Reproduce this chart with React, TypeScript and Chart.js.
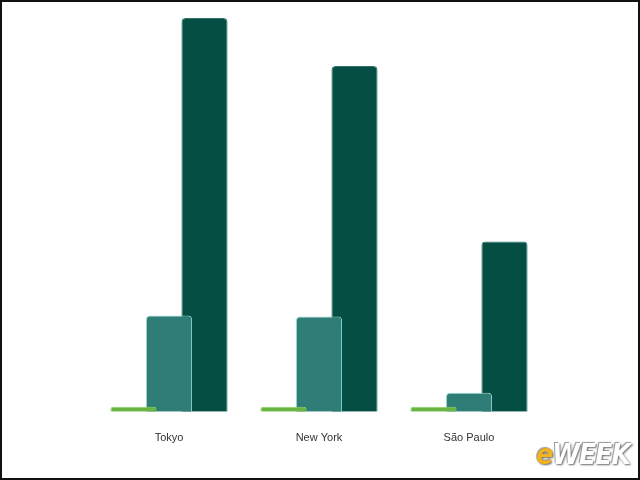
import { useEffect, useRef } from "react";
import { Chart, registerables } from "chart.js";

Chart.register(...registerables);

const cities = ["Tokyo", "New York", "São Paulo"];
const smallSeries = [0.5, 0.5, 0.5];
const midSeries = [9.6, 9.5, 1.9];
const bigSeries = [39.3, 34.5, 17.0];

export default function App() {
  const chartRef = useRef<HTMLCanvasElement>(null);
  const chartInstance = useRef<Chart | null>(null);

  useEffect(() => {
    document.body.style.margin = "0";
    if (!chartRef.current) return;
    if (chartInstance.current) chartInstance.current.destroy();

    const ctx = chartRef.current.getContext("2d");
    if (!ctx) return;

    const radius = { topLeft: 4, topRight: 4, bottomLeft: 0, bottomRight: 0 };

    chartInstance.current = new Chart(ctx, {
      type: "bar",
      data: {
        labels: cities,
        datasets: [
          {
            label: "small",
            data: smallSeries,
            backgroundColor: "#6ab540",
            borderColor: "#8fd06a",
            borderWidth: 1,
            borderRadius: radius,
            borderSkipped: "start",
          },
          {
            label: "mid",
            data: midSeries,
            backgroundColor: "#2f7d77",
            borderColor: "#9ad8cf",
            borderWidth: 1,
            borderRadius: radius,
            borderSkipped: "start",
          },
          {
            label: "big",
            data: bigSeries,
            backgroundColor: "#054e44",
            borderColor: "#2f7468",
            borderWidth: 1,
            borderRadius: radius,
            borderSkipped: "start",
          },
        ],
      },
      options: {
        responsive: false,
        animation: false,
        categoryPercentage: 0.71,
        barPercentage: 1.3,
        layout: { padding: { left: 94, right: 96, top: 18, bottom: 23 } },
        plugins: { legend: { display: false }, tooltip: { enabled: false } },
        scales: {
          y: { display: false, min: 0, max: 39.3 },
          x: {
            grid: { display: false },
            border: { display: false },
            ticks: {
              color: "#333",
              padding: 12,
              font: { family: "'Liberation Sans', Arial, sans-serif", size: 11 },
            },
          },
        },
      },
    });

    return () => {
      if (chartInstance.current) {
        chartInstance.current.destroy();
        chartInstance.current = null;
      }
    };
  }, []);

  return (
    <div
      style={{
        position: "relative",
        width: 640,
        height: 480,
        background: "#fff",
        overflow: "hidden",
      }}
    >
      <canvas
        ref={chartRef}
        width={640}
        height={480}
        style={{ position: "absolute", left: 0, top: 0 }}
      />
      <div
        style={{
          position: "absolute",
          inset: 0,
          border: "2px solid #111",
          boxSizing: "border-box",
          pointerEvents: "none",
        }}
      />
      <div
        style={{
          position: "absolute",
          right: 10,
          bottom: 9,
          fontFamily: "'Liberation Sans Narrow', 'DejaVu Sans Condensed', sans-serif",
          fontWeight: "bold",
          fontStyle: "italic",
          fontSize: 28,
          letterSpacing: -1,
          textShadow: "1px 1px 2px #666, -1px -1px 1px #999",
        }}
      >
        <span style={{ color: "#f2b31c" }}>e</span>
        <span style={{ color: "#fff" }}>WEEK</span>
      </div>
    </div>
  );
}
